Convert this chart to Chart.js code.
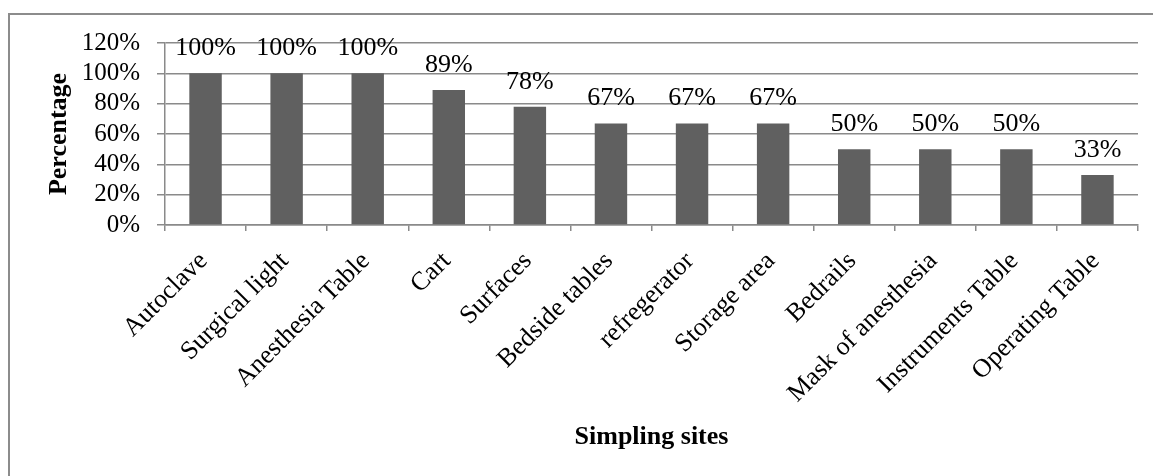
<!DOCTYPE html>
<html>
<head>
<meta charset="utf-8">
<script src="https://cdn.jsdelivr.net/npm/chart.js@4"></script>
<style>
  html, body { margin: 0; padding: 0; background: #ffffff; }
  #wrap { width: 1153px; height: 476px; position: relative; }
</style>
</head>
<body>
<div id="wrap"><canvas id="c" width="1153" height="476"></canvas></div>
<script>
const categories = ['Autoclave', 'Surgical light', 'Anesthesia Table', 'Cart', 'Surfaces', 'Bedside tables',
  'refregerator', 'Storage area', 'Bedrails', 'Mask of anesthesia', 'Instruments Table', 'Operating Table'];
const values = [100, 100, 100, 89, 78, 67, 67, 67, 50, 50, 50, 33];
const yTickValues = [0, 20, 40, 60, 80, 100, 120];
const yTickLabels = ['0%', '20%', '40%', '60%', '80%', '100%', '120%'];
const xTitle = 'Simpling sites';
const yTitle = 'Percentage';

const FONT = "'Liberation Serif', 'Times New Roman', serif";
const GRID = '#8a8a8a';

const frame = {
  id: 'frame',
  beforeDraw(chart) {
    const ctx = chart.ctx;
    ctx.save();
    ctx.strokeStyle = '#8c8c8c';
    ctx.lineWidth = 2;
    ctx.beginPath();
    ctx.moveTo(9, 480);
    ctx.lineTo(9, 14);
    ctx.lineTo(1160, 14);
    ctx.stroke();
    ctx.restore();
  }
};

const valueLabels = {
  id: 'valueLabels',
  afterDatasetsDraw(chart) {
    const ctx = chart.ctx;
    const meta = chart.getDatasetMeta(0);
    ctx.save();
    ctx.font = '26px ' + FONT;
    ctx.fillStyle = '#000';
    ctx.textAlign = 'center';
    ctx.textBaseline = 'alphabetic';
    meta.data.forEach((bar, i) => {
      ctx.fillText(values[i] + '%', bar.x, bar.y - 18);
    });
    ctx.restore();
  }
};

new Chart(document.getElementById('c'), {
  type: 'bar',
  data: {
    labels: categories,
    datasets: [{
      data: values,
      backgroundColor: '#606060',
      borderWidth: 0,
      categoryPercentage: 0.4,
      barPercentage: 1
    }]
  },
  options: {
    responsive: false,
    animation: false,
    events: [],
    layout: { padding: { left: 20, right: 15, top: 43, bottom: 0 } },
    plugins: { legend: { display: false }, tooltip: { enabled: false } },
    scales: {
      x: {
        afterFit(scale) { scale.height = 251; },
        grid: { drawOnChartArea: false, drawTicks: true, tickLength: 6, color: GRID, lineWidth: 1.5 },
        border: { color: GRID, width: 1.5 },
        ticks: {
          autoSkip: false, maxRotation: 45, minRotation: 45, padding: 15, labelOffset: -2,
          color: '#000', font: { family: FONT, size: 26 }
        },
        title: {
          display: true, text: xTitle, color: '#000',
          font: { family: FONT, size: 26, weight: 'bold' },
          padding: { top: 0, bottom: 23 }
        }
      },
      y: {
        min: 0, max: 120,
        afterFit(scale) { scale.width = 145; },
        afterBuildTicks(scale) { scale.ticks = yTickValues.map(v => ({ value: v })); },
        grid: { drawTicks: true, tickLength: 8, color: GRID, lineWidth: 1.5 },
        border: { color: GRID, width: 1.5 },
        ticks: {
          autoSkip: false,
          padding: 17, color: '#000', font: { family: FONT, size: 25 },
          callback: (v) => yTickLabels[yTickValues.indexOf(v)]
        },
        title: {
          display: true, text: yTitle, color: '#000',
          font: { family: FONT, size: 26, weight: 'bold' },
          padding: { top: 24, bottom: 0 }
        }
      }
    }
  },
  plugins: [frame, valueLabels]
});
</script>
</body>
</html>
